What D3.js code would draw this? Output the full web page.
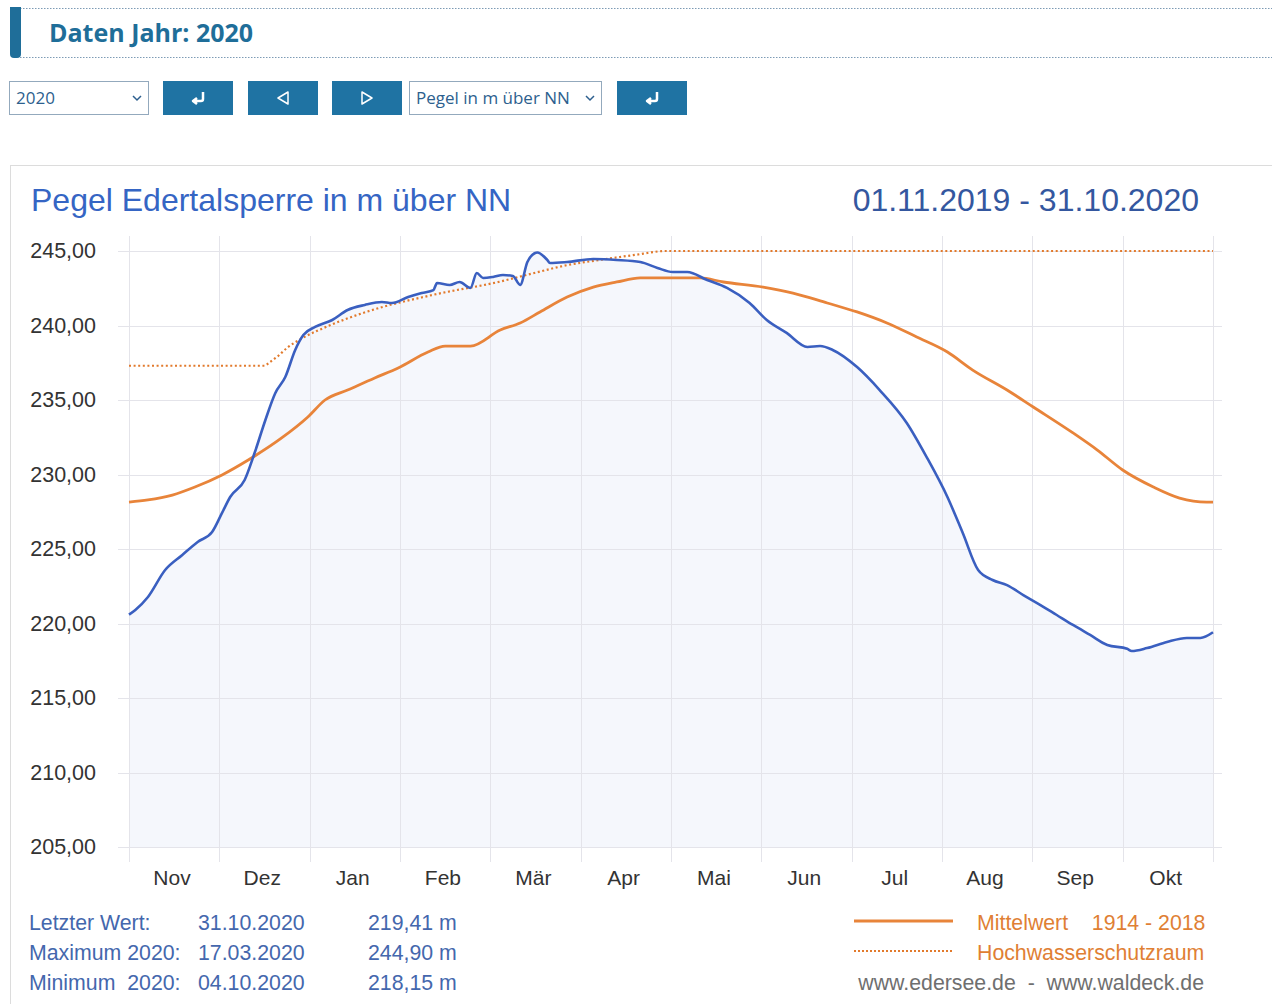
<!DOCTYPE html>
<html><head><meta charset="utf-8">
<script src="https://cdn.jsdelivr.net/npm/d3@7"></script>
<style>
body{margin:0;background:#fff;}
svg{display:block;}
</style></head><body>
<svg id="c" width="1272" height="1004"></svg>
<script>
// ---- data ----
const months = ["Nov","Dez","Jan","Feb","Mär","Apr","Mai","Jun","Jul","Aug","Sep","Okt"];
const yTicks = [205,210,215,220,225,230,235,240,245];
// Pegel 2020 – position in months since 01.11.2019, level in m über NN
const pegelPos = [0,0.07,0.21,0.40,0.59,0.76,0.92,1.03,1.12,1.28,1.39,1.51,1.62,1.73,1.84,1.93,2.06,2.25,2.42,2.61,2.80,2.91,3.09,3.24,3.37,3.41,3.55,3.66,3.78,3.85,3.92,4.03,4.14,4.25,4.33,4.41,4.49,4.52,4.63,4.66,4.85,5.14,5.40,5.66,5.85,6.02,6.18,6.40,6.62,6.87,7.06,7.28,7.51,7.65,7.79,8.06,8.31,8.61,8.83,9.06,9.23,9.40,9.56,9.72,9.90,10.09,10.27,10.45,10.64,10.83,11.05,11.10,11.27,11.49,11.71,11.86,12.0];
const pegelVal = [220.60,220.91,221.78,223.59,224.60,225.47,226.14,227.42,228.49,229.63,231.44,233.66,235.47,236.54,238.36,239.36,239.90,240.37,241.04,241.38,241.58,241.51,241.91,242.18,242.38,242.85,242.72,242.92,242.52,243.52,243.19,243.26,243.39,243.32,242.72,244.26,244.85,244.90,244.40,244.19,244.26,244.46,244.40,244.26,243.86,243.59,243.59,243.05,242.52,241.51,240.37,239.50,238.56,238.62,238.36,237.21,235.67,233.46,231.17,228.49,226.07,223.59,222.92,222.58,221.91,221.24,220.57,219.90,219.23,218.56,218.30,218.15,218.35,218.76,219.03,219.03,219.41];
// Mittelwert 1914 - 2018
const mittelPos = [0,0.21,0.48,0.73,1.03,1.32,1.69,1.98,2.17,2.42,2.72,2.98,3.31,3.50,3.78,4.11,4.33,4.55,4.85,5.14,5.40,5.66,5.96,6.32,6.58,7.02,7.35,7.73,8.06,8.39,8.72,9.06,9.34,9.72,10.01,10.45,10.72,11.0,11.34,11.63,11.93,12.0];
const mittelVal = [228.15,228.29,228.62,229.16,229.97,230.97,232.45,233.86,235.00,235.67,236.48,237.15,238.22,238.62,238.62,239.70,240.17,240.91,241.91,242.58,242.92,243.19,243.19,243.19,242.92,242.58,242.18,241.51,240.91,240.17,239.23,238.22,237.01,235.67,234.53,232.79,231.64,230.30,229.16,228.42,228.15,228.15];
// Hochwasserschutzraum
const schutzPos = [0,1.50,1.55,1.65,1.75,1.89,2.24,2.62,3.36,4.11,4.47,4.85,5.21,5.58,5.95,12.0];
const schutzVal = [237.3,237.3,237.5,237.95,238.5,239.05,240.05,240.9,242.05,242.95,243.5,244.05,244.4,244.72,245.0,245.0];

// ---- drawing ----
const svg = d3.select("#c");
const x = d3.scaleLinear().domain([0,12]).range([129,1213]);
const y = d3.scaleLinear().domain([205,245]).range([847,251]);
const de = d3.formatLocale({decimal:",",thousands:".",grouping:[3],currency:["","€"]});
const fmt = de.format(".2f");
const AR = "Liberation Sans, Arial, sans-serif";

// header
svg.append("line").attr("x1",20).attr("x2",1272).attr("y1",8.5).attr("y2",8.5)
  .attr("stroke","#7d9bb5").attr("stroke-dasharray","1.5,1.5");
svg.append("line").attr("x1",20).attr("x2",1272).attr("y1",57.5).attr("y2",57.5)
  .attr("stroke","#7d9bb5").attr("stroke-dasharray","1.5,1.5");
svg.append("path").attr("d","M10,7 H21 V54 Q21,58 17,58 H14 Q10,58 10,54 Z").attr("fill","#1f6e99");
svg.append("text").attr("x",49).attr("y",42).text("Daten Jahr: 2020")
  .attr("font-family","Open Sans, sans-serif").attr("font-weight",700).attr("font-size",25).attr("fill","#1f6e99");

// controls
function select(x0,w,label){
  svg.append("rect").attr("x",x0+0.5).attr("y",81.5).attr("width",w).attr("height",33)
    .attr("fill","#fff").attr("stroke","#93a9bd");
  svg.append("text").attr("x",x0+7).attr("y",104).text(label)
    .attr("font-family","Open Sans, sans-serif").attr("font-size",17).attr("fill","#2d5f8e");
  svg.append("path").attr("d",`M${x0+w-15},96 l4,4 l4,-4`).attr("fill","none").attr("stroke","#2d5f8e").attr("stroke-width",1.5);
}
function button(x0,icon){
  svg.append("rect").attr("x",x0).attr("y",81).attr("width",70).attr("height",34).attr("fill","#1f73a3");
  const cx=x0+35, cy=98;
  let d;
  if(icon==="ret") d=`M${cx+5},${cy-6} V${cy+1} Q${cx+5},${cy+3} ${cx+3},${cy+3} H${cx-4} M${cx-1},${cy} L${cx-5},${cy+3} L${cx-1},${cy+6}`;
  if(icon==="left") d=`M${cx+5},${cy-6} L${cx-5},${cy} L${cx+5},${cy+6} Z`;
  if(icon==="right") d=`M${cx-5},${cy-6} L${cx+5},${cy} L${cx-5},${cy+6} Z`;
  svg.append("path").attr("d",d).attr("fill","none").attr("stroke","#fff")
    .attr("stroke-width",icon==="ret"?2.5:1.5).attr("stroke-linejoin","round");
}
select(9,139,"2020");
button(163,"ret");
button(248,"left");
button(332,"right");
select(409,192,"Pegel in m über NN");
button(617,"ret");

// panel
svg.append("rect").attr("x",10.5).attr("y",165.5).attr("width",1300).attr("height",900)
  .attr("fill","#fff").attr("stroke","#dcdcdc");

// titles
svg.append("text").attr("x",31).attr("y",211).text("Pegel Edertalsperre in m über NN")
  .attr("font-family",AR).attr("font-size",32).attr("fill","#3565c4");
svg.append("text").attr("x",1199).attr("y",211).attr("text-anchor","end").text("01.11.2019 - 31.10.2020")
  .attr("font-family",AR).attr("font-size",32).attr("fill","#34579f");

// area fill under Pegel
const pegel = pegelPos.map((p,i)=>({p, v:pegelVal[i]}));
const mittel = mittelPos.map((p,i)=>({p, v:mittelVal[i]}));
const schutz = schutzPos.map((p,i)=>({p, v:schutzVal[i]}));
svg.append("path").datum(pegel)
  .attr("d", d3.area().x(d=>x(d.p)).y0(y(205)).y1(d=>y(d.v)).curve(d3.curveMonotoneX))
  .attr("fill","#f5f7fc");

// grid
svg.append("g").selectAll("line").data(yTicks).join("line")
  .attr("x1",118).attr("x2",1222).attr("y1",d=>Math.round(y(d))+0.5).attr("y2",d=>Math.round(y(d))+0.5)
  .attr("stroke","#e4e4ea");
svg.append("g").selectAll("line").data(d3.range(13)).join("line")
  .attr("x1",d=>Math.round(x(d))+0.5).attr("x2",d=>Math.round(x(d))+0.5).attr("y1",236).attr("y2",862)
  .attr("stroke","#e4e4ea");

// axes
const yAxis = svg.append("g").attr("transform","translate(129,0)")
  .call(d3.axisLeft(y).tickValues(yTicks).tickFormat(fmt).tickSize(0).tickPadding(33));
yAxis.select(".domain").remove();
yAxis.selectAll("text").attr("font-family",AR).attr("font-size",21.5).attr("fill","#333");
const xAxis = svg.append("g").attr("transform",`translate(0,${y(205)})`)
  .call(d3.axisBottom(x).tickValues(d3.range(12).map(i=>i+0.47)).tickFormat((d,i)=>months[i]).tickSize(0).tickPadding(23));
xAxis.select(".domain").remove();
xAxis.selectAll("text").attr("font-family",AR).attr("font-size",21).attr("fill","#333");

// lines
const line = d3.line().x(d=>x(d.p)).y(d=>y(d.v)).curve(d3.curveMonotoneX);
svg.append("path").datum(schutz).attr("d",line)
  .attr("fill","none").attr("stroke","#e27a2c").attr("stroke-width",2.2).attr("stroke-dasharray","2,2.6");
svg.append("path").datum(mittel).attr("d",line)
  .attr("fill","none").attr("stroke","#e8843a").attr("stroke-width",2.8);
svg.append("path").datum(pegel).attr("d",line)
  .attr("fill","none").attr("stroke","#3a5fc0").attr("stroke-width",2.6).attr("stroke-linejoin","round");

// bottom info
const info = [["Letzter Wert:","31.10.2020","219,41 m"],["Maximum 2020:","17.03.2020","244,90 m"],["Minimum  2020:","04.10.2020","218,15 m"]];
info.forEach((r,i)=>{
  const yy = 930 + i*30;
  [29,198,368].forEach((xx,j)=>{
    svg.append("text").attr("x",xx).attr("y",yy).text(r[j])
      .style("white-space","pre")
      .attr("font-family",AR).attr("font-size",21.3).attr("fill","#4467ad");
  });
});
// legend
svg.append("line").attr("x1",854).attr("x2",953).attr("y1",921).attr("y2",921)
  .attr("stroke","#e8843a").attr("stroke-width",3);
svg.append("line").attr("x1",854).attr("x2",953).attr("y1",951).attr("y2",951)
  .attr("stroke","#e27a2c").attr("stroke-width",2).attr("stroke-dasharray","2,2");
svg.append("text").attr("x",977).attr("y",930).text("Mittelwert    1914 - 2018").style("white-space","pre")
  .attr("font-family",AR).attr("font-size",21.3).attr("fill","#e07f34");
svg.append("text").attr("x",977).attr("y",960).text("Hochwasserschutzraum")
  .attr("font-family",AR).attr("font-size",21.3).attr("fill","#e07f34");
svg.append("text").attr("x",1204).attr("y",990).attr("text-anchor","end").text("www.edersee.de  -  www.waldeck.de").style("white-space","pre")
  .attr("font-family",AR).attr("font-size",21.3).attr("fill","#6f6f6f");
</script>
</body></html>
